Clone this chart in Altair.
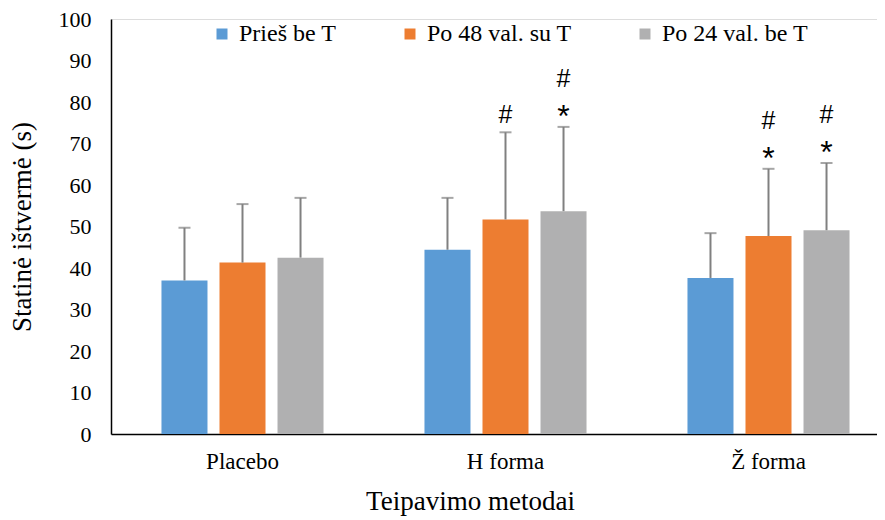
import altair as alt
import pandas as pd

categories = ["Placebo", "H forma", "Ž forma"]
series = ["Prieš be T", "Po 48 val. su T", "Po 24 val. be T"]
colors = ["#5B9BD5", "#ED7D31", "#B0B0B1"]

pries = [37.0, 44.4, 37.6]
po48 = [41.3, 51.7, 47.7]
po24 = [42.5, 53.7, 49.1]
pries_sd = [12.7, 12.5, 10.8]
po48_sd = [14.1, 21.0, 16.2]
po24_sd = [14.4, 20.3, 16.2]
hash_marks = [["", "", ""], ["", "#", "#"], ["", "#", "#"]]   # [series][category]
star_marks = [["", "", ""], ["", "", "*"], ["", "*", "*"]]

means = [pries, po48, po24]
sds = [pries_sd, po48_sd, po24_sd]
rows = []
for si, s in enumerate(series):
    for ci, c in enumerate(categories):
        m = means[si][ci]
        sd = sds[si][ci]
        rows.append({"cat": c, "ser": s, "mean": m, "top": m + sd,
                     "hash": hash_marks[si][ci], "star": star_marks[si][ci],
                     "has_star": star_marks[si][ci] != ""})
df = pd.DataFrame(rows)

serif = "Times New Roman, Liberation Serif, serif"
sans = "Arial, Liberation Sans, sans-serif"

x_enc = alt.X("cat:N", sort=categories,
              scale=alt.Scale(range=[0, 789], paddingInner=0, paddingOuter=0),
              axis=alt.Axis(title="Teipavimo metodai", labelAngle=0, ticks=False,
                            domainColor="#000000", domainWidth=1.5,
                            labelFont=serif, labelFontSize=23, labelColor="#000000",
                            labelFontWeight="normal",
                            labelPadding=16, titleFont=serif, titleFontSize=27,
                            titleFontWeight="normal", titleColor="#000000",
                            titleX=359, titleY=75, titleAlign="center",
                            titleBaseline="alphabetic"))
xo = alt.XOffset("ser:N", sort=series,
                 scale=alt.Scale(paddingInner=0.207, paddingOuter=0.87))
y_scale = alt.Scale(domain=[0, 100], nice=False)

base = alt.Chart(df)

bars = base.mark_bar().encode(
    x=x_enc,
    xOffset=xo,
    y=alt.Y("mean:Q", scale=y_scale,
            axis=alt.Axis(title="Statinė ištvermė (s)", values=list(range(0, 101, 10)),
                          grid=False, ticks=False, domainColor="#000000", domainWidth=1.5,
                          labelFont=serif, labelFontSize=22, labelColor="#000000",
                          labelFontWeight="normal",
                          labelPadding=20, titleFont=serif, titleFontSize=27,
                          titleFontWeight="normal", titleColor="#000000",
                          titlePadding=22)),
    color=alt.Color("ser:N", sort=series,
                    scale=alt.Scale(domain=series, range=colors),
                    legend=alt.Legend(title=None, orient="none", direction="horizontal",
                                      legendX=99, legendY=3, symbolType="square",
                                      symbolSize=121, symbolStrokeWidth=0,
                                      labelFont=serif, labelFontSize=24,
                                      labelFontWeight="normal",
                                      labelColor="#000000", columnPadding=61,
                                      labelOffset=5)),
)

err = base.mark_rule(color="#808080", strokeWidth=2).encode(
    x=alt.X("cat:N", sort=categories), xOffset=xo,
    y=alt.Y("mean:Q", scale=y_scale), y2="top:Q")

caps = base.mark_tick(color="#808080", orient="horizontal", size=12, thickness=2).encode(
    x=alt.X("cat:N", sort=categories), xOffset=xo,
    y=alt.Y("top:Q", scale=y_scale))

stars = base.transform_filter("datum.star != ''").mark_text(
    font=sans, fontSize=32, color="#000000", baseline="middle", dy=-10).encode(
    x=alt.X("cat:N", sort=categories), xOffset=xo,
    y=alt.Y("top:Q", scale=y_scale), text="star:N")

hashes_hi = base.transform_filter("datum.hash != '' && datum.has_star").mark_text(
    font=sans, fontSize=25, color="#000000", baseline="middle", dy=-48).encode(
    x=alt.X("cat:N", sort=categories), xOffset=xo,
    y=alt.Y("top:Q", scale=y_scale), text="hash:N")

hashes_lo = base.transform_filter("datum.hash != '' && !datum.has_star").mark_text(
    font=sans, fontSize=25, color="#000000", baseline="middle", dy=-17).encode(
    x=alt.X("cat:N", sort=categories), xOffset=xo,
    y=alt.Y("top:Q", scale=y_scale), text="hash:N")

chart = alt.layer(bars, err, caps, stars, hashes_hi, hashes_lo).properties(
    width=766, height=415,
    autosize=alt.AutoSizeParams(type="none"),
    padding={"left": 103, "top": 11, "right": 0, "bottom": 85},
).configure_view(stroke=None).configure(background="#ffffff")

chart.save("out.html", embed_options={"renderer": "svg", "actions": False})
